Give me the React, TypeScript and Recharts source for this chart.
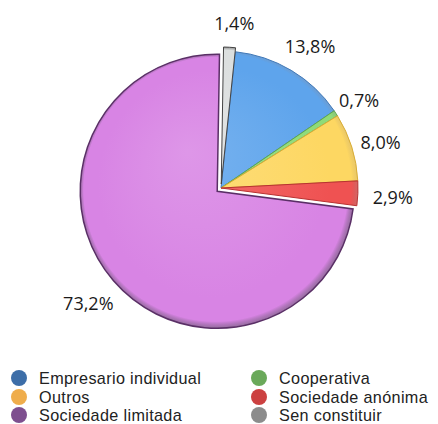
import React from 'react';
import { PieChart, Pie, Cell, Legend } from 'recharts';

// categorías en el orden del gráfico (sentido horario desde arriba)
const categorias = [
  'Empresario individual',
  'Cooperativa',
  'Outros',
  'Sociedade anónima',
  'Sociedade limitada',
  'Sen constituir',
];
const porcentajes = [13.8, 0.7, 8.0, 2.9, 73.2, 1.4];

// colores de las porciones y de la leyenda
const coloresPie = ['#5ea4ec', '#8fdb78', '#fdd762', '#ef5252', '#d884e4', '#dcdfdf'];
const coloresBorde = ['#3f78b8', '#5fa84c', '#d9ad35', '#b83232', '#5a2f66', '#444444'];
const coloresLeyenda = ['#3d6ea8', '#6aa95a', '#efad4c', '#cc4141', '#7e4f8f', '#8c8c8c'];
const separacion = [0, 0, 0, 0, 5, 4];

const CX = 221;
const CY = 188;
const R = 137;
const GIRO = 6; // el gráfico original está girado unos grados
const RADIAN = Math.PI / 180;

const data = categorias.map((nombre, i) => ({ nombre, valor: porcentajes[i] }));

// ángulo medio de cada porción, en grados desde arriba en sentido horario
const total = porcentajes.reduce((s, v) => s + v, 0);
const angulosMedios: number[] = [];
porcentajes.reduce((acc, v) => {
  angulosMedios.push(((acc + v / 2) / total) * 360);
  return acc + v;
}, 0);

const formato = (v: number) => `${v.toFixed(1).replace('.', ',')}%`;

const renderLabel = (props: any) => {
  const { cx, cy, outerRadius, index, value } = props;
  const t = angulosMedios[index] * RADIAN;
  const s = Math.sin(t);
  const c = Math.cos(t);
  const rl = outerRadius + 15 + separacion[index];
  const x = cx + rl * s;
  let y = cy + 1 - rl * c;
  if (s > 0) y += 18 * s * s;
  if (c > 0) y -= 10 * c * c;
  return (
    <text
      x={x}
      y={y}
      textAnchor={s >= -0.1 ? 'start' : 'end'}
      dominantBaseline="central"
      fill="#1a1a1a"
      fontSize={18}
      fontFamily="'Open Sans', sans-serif"
    >
      {formato(value)}
    </text>
  );
};

const renderLegend = () => (
  <div
    style={{
      display: 'grid',
      gridTemplateColumns: '240px 198px',
      fontFamily: "'Liberation Sans', Arial, sans-serif",
      fontSize: 16.2,
      letterSpacing: 0.35,
      lineHeight: '18.5px',
      color: '#222',
    }}
  >
    {categorias.map((nombre, i) => (
      <div key={nombre} style={{ display: 'flex', alignItems: 'center', whiteSpace: 'nowrap', height: 18.5 }}>
        <div
          style={{
            width: 16,
            height: 16,
            borderRadius: '50%',
            background: coloresLeyenda[i],
            marginLeft: 10.5,
            marginRight: 12.5,
            flexShrink: 0,
          }}
        />
        <span>{nombre}</span>
      </div>
    ))}
  </div>
);

export default function App() {
  return (
    <div style={{ position: 'absolute', top: 0, left: 0, width: 438, height: 424, background: '#fff' }}>
      <PieChart width={438} height={424} margin={{ top: 0, right: 0, bottom: 0, left: 0 }}>
        <defs>
          {coloresPie.map((col, i) => (
            <radialGradient
              key={i}
              id={`grad${i}`}
              gradientUnits="userSpaceOnUse"
              cx={CX}
              cy={CY}
              r={R + 2}
              fx={CX - 30}
              fy={CY - 40}
            >
              <stop offset="0%" stopColor={col} stopOpacity={0.85} />
              <stop offset="82%" stopColor={col} />
              <stop offset="95%" stopColor={col} />
              <stop offset="100%" stopColor={coloresBorde[i]} stopOpacity={0.7} />
            </radialGradient>
          ))}
        </defs>
        <Pie
          data={data}
          dataKey="valor"
          nameKey="nombre"
          cx={CX}
          cy={CY}
          outerRadius={R}
          startAngle={90 - GIRO}
          endAngle={-270 - GIRO}
          label={renderLabel}
          labelLine={false}
          isAnimationActive={false}
        >
          {data.map((d, i) => {
            const t = (angulosMedios[i] + GIRO) * RADIAN;
            const dx = separacion[i] * Math.sin(t);
            const dy = -separacion[i] * Math.cos(t);
            return (
              <Cell
                key={d.nombre}
                fill={`url(#grad${i})`}
                stroke={coloresBorde[i]}
                strokeWidth={i === 4 ? 1.5 : 1}
                style={{ transform: `translate(${dx}px, ${dy}px)` }}
              />
            );
          })}
        </Pie>
        <Legend
          content={renderLegend}
          wrapperStyle={{ position: 'absolute', top: 369, left: 0, width: 438 }}
        />
      </PieChart>
    </div>
  );
}
